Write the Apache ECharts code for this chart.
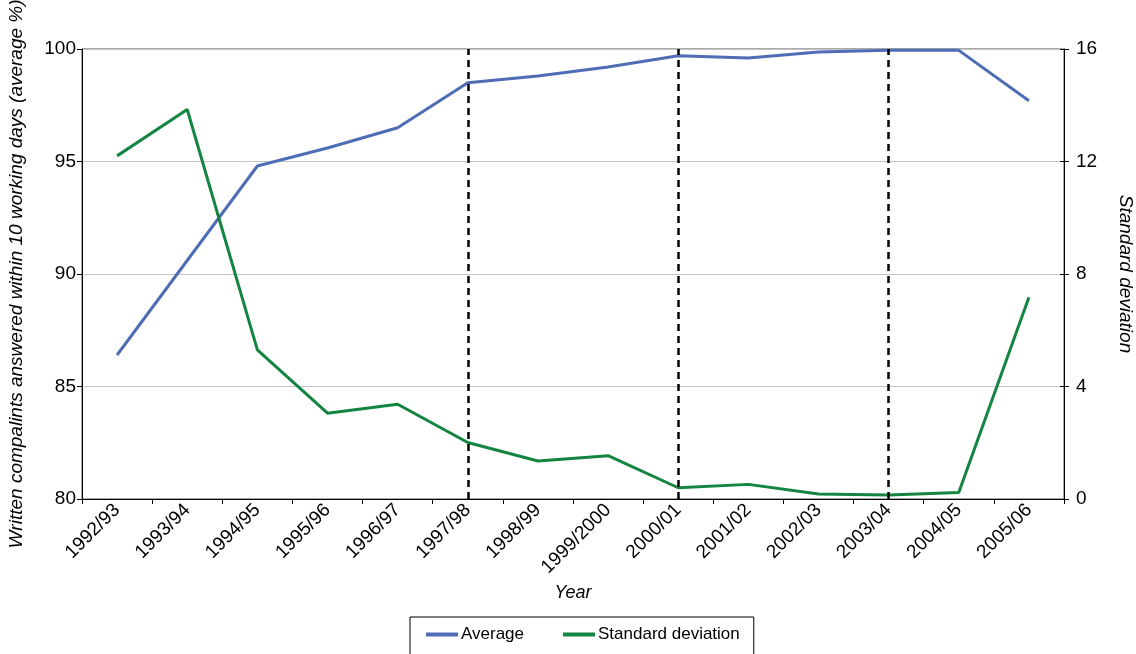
<!DOCTYPE html>
<html>
<head>
<meta charset="utf-8">
<style>
  html, body { margin: 0; padding: 0; background: #fff; }
  #chart { width: 1136px; height: 654px; }
</style>
<script src="https://cdn.jsdelivr.net/npm/echarts@6/dist/echarts.min.js"></script>
</head>
<body>
<div id="chart"></div>
<script>
// 数据
//-----
var years = ['1992/93', '1993/94', '1994/95', '1995/96', '1996/97', '1997/98', '1998/99',
  '1999/2000', '2000/01', '2001/02', '2002/03', '2003/04', '2004/05', '2005/06'];

// average % answered within 10 working days (left axis)
var average = [86.4, 90.6, 94.8, 95.6, 96.5, 98.5, 98.8, 99.2, 99.7, 99.6, 99.87, 99.94, 99.94, 97.7];

// standard deviation (right axis)
var stdDev = [12.2, 13.85, 5.3, 3.05, 3.37, 2.01, 1.35, 1.54, 0.40, 0.52, 0.18, 0.14, 0.23, 7.17];

// years marked with dashed lines
var markedYears = ['1997/98', '2000/01', '2003/04'];

var font = '"Liberation Sans", Arial, sans-serif';

var myChart = echarts.init(document.getElementById('chart'));
var option = {
  animation: false,
  backgroundColor: '#fff',
  textStyle: { fontFamily: font, color: '#000' },
  grid: {
    left: 82, right: 72, top: 49, bottom: 155,
    outerBoundsMode: 'none',
    containLabel: false,
    show: true, borderColor: '#555', borderWidth: 1
  },
  legend: {
    left: 410,
    top: 617,
    padding: [9, 14, 14, 16],
    borderColor: '#000',
    borderWidth: 1,
    itemGap: 39,
    itemWidth: 32,
    itemHeight: 4,
    icon: 'rect',
    textStyle: { fontFamily: font, fontSize: 17, color: '#000', padding: [0, 0, 0, -2] },
    data: ['Average', 'Standard deviation']
  },
  xAxis: {
    type: 'category',
    data: years,
    boundaryGap: true,
    name: 'Year',
    nameLocation: 'middle',
    nameGap: 82,
    nameTextStyle: { fontStyle: 'italic', fontSize: 18, fontFamily: font, color: '#000' },
    axisLine: { lineStyle: { color: '#000', width: 1 } },
    axisTick: { show: true, interval: 0, length: 5, lineStyle: { color: '#000' } },
    axisLabel: { rotate: 45, interval: 0, fontSize: 19, color: '#000', margin: 8, fontFamily: font },
    splitLine: { show: false }
  },
  yAxis: [
    {
      type: 'value',
      min: 80, max: 100, interval: 5,
      name: 'Written compalints answered within 10 working days (average %)',
      nameLocation: 'middle',
      nameGap: 56,
      nameTextStyle: { fontStyle: 'italic', fontSize: 19, fontFamily: font, color: '#000' },
      axisLine: { show: true, lineStyle: { color: '#000' } },
      axisTick: { show: true, length: 5, lineStyle: { color: '#000' } },
      axisLabel: { fontSize: 19, color: '#000', margin: 6, fontFamily: font },
      splitLine: { show: true, lineStyle: { color: '#c4c4c4', width: 1 } }
    },
    {
      type: 'value',
      min: 0, max: 16, interval: 4,
      position: 'right',
      name: 'Standard deviation',
      nameLocation: 'middle',
      nameRotate: -90,
      nameGap: 52,
      nameTextStyle: { fontStyle: 'italic', fontSize: 19, fontFamily: font, color: '#000' },
      axisLine: { show: true, lineStyle: { color: '#000' } },
      axisTick: { show: true, length: 5, lineStyle: { color: '#000' } },
      axisLabel: { fontSize: 19, color: '#000', margin: 12, fontFamily: font },
      splitLine: { show: false }
    },
    {
      // inner half of the crossing ticks on the right axis
      type: 'value',
      min: 0, max: 16, interval: 4,
      position: 'right',
      axisLine: { show: false },
      axisTick: { show: true, inside: true, length: 4, lineStyle: { color: '#000' } },
      axisLabel: { show: false },
      splitLine: { show: false }
    }
  ],
  series: [
    {
      name: 'Average',
      type: 'line',
      yAxisIndex: 0,
      data: average,
      symbol: 'none',
      color: '#4e6db4',
      lineStyle: { width: 3, color: '#4e6db4' },
      markLine: {
        silent: true,
        symbol: 'none',
        label: { show: false },
        lineStyle: { color: '#000', width: 2.5, type: [7, 5] },
        data: markedYears.map(function (y) { return { xAxis: y }; })
      }
    },
    {
      name: 'Standard deviation',
      type: 'line',
      yAxisIndex: 1,
      data: stdDev,
      symbol: 'none',
      color: '#138540',
      lineStyle: { width: 3, color: '#138540' }
    }
  ]
};
myChart.setOption(option);
</script>
</body>
</html>
